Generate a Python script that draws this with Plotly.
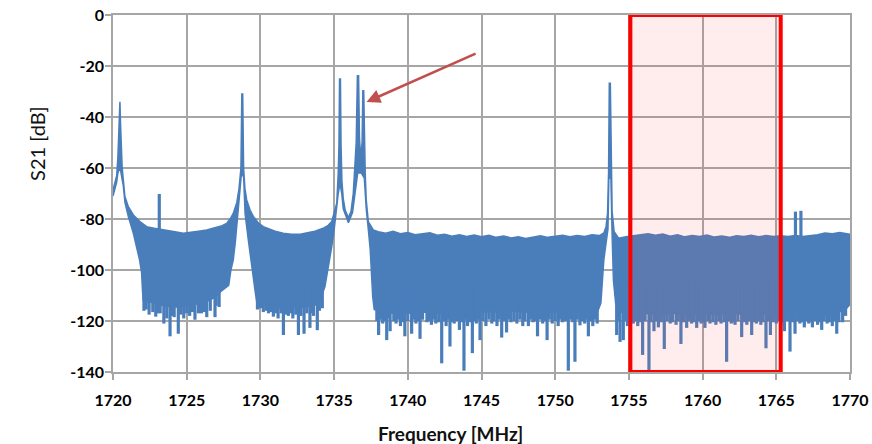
import plotly.graph_objects as go

# ---------------- data ----------------
# upper edge of the measured S21 trace (frequency MHz, level dB)
upper_freq = [1720.00, 1720.15, 1720.25, 1720.33, 1720.38, 1720.42, 1720.47, 1720.51, 1720.56, 1720.62,
              1720.70, 1720.81, 1721.04, 1721.38, 1721.83, 1722.28, 1722.80, 1723.30, 1723.64, 1724.20,
              1724.77, 1725.30, 1725.80, 1726.36, 1726.90, 1727.40, 1727.71, 1728.00, 1728.16, 1728.40,
              1728.55, 1728.68, 1728.74, 1728.80, 1728.86, 1728.95, 1729.07, 1729.30, 1729.52, 1729.85,
              1730.20, 1730.60, 1731.00, 1731.55, 1732.10, 1732.70, 1733.20, 1733.70, 1734.30, 1734.60,
              1734.84, 1735.05, 1735.18, 1735.28, 1735.33, 1735.37, 1735.43, 1735.47, 1735.53, 1735.62,
              1735.75, 1735.97, 1736.15, 1736.30, 1736.42, 1736.50, 1736.58, 1736.66, 1736.72, 1736.80,
              1736.90, 1736.95, 1737.01, 1737.06, 1737.11, 1737.18, 1737.32, 1737.66, 1738.00, 1738.50,
              1739.00, 1739.50, 1740.00, 1740.50, 1741.00, 1741.50, 1742.00, 1742.50, 1743.00, 1743.50,
              1744.00, 1744.50, 1745.00, 1745.50, 1746.00, 1746.50, 1747.00, 1747.50, 1748.00, 1748.50,
              1749.00, 1749.50, 1750.00, 1750.50, 1751.00, 1751.50, 1752.00, 1752.50, 1753.00, 1753.30,
              1753.45, 1753.55, 1753.62, 1753.67, 1753.74, 1753.79, 1753.86, 1754.00, 1754.30, 1754.80,
              1755.30, 1755.80, 1756.30, 1756.80, 1757.30, 1757.80, 1758.30, 1758.80, 1759.30, 1759.80,
              1760.30, 1760.80, 1761.30, 1761.80, 1762.30, 1762.80, 1763.30, 1763.80, 1764.30, 1764.80,
              1765.30, 1765.80, 1766.30, 1766.80, 1767.30, 1767.80, 1768.30, 1768.80, 1769.30, 1769.70,
              1770.00]
upper_db = [-68.6, -65.5, -63.0, -56.0, -47.0, -34.0, -34.0, -42.5, -55.0, -59.5,
            -64.7, -71.2, -75.2, -78.4, -81.0, -83.0, -83.6, -84.0, -84.3, -85.0,
            -85.6, -85.3, -84.8, -84.3, -83.5, -82.6, -81.7, -79.5, -77.8, -73.5,
            -68.0, -60.0, -31.0, -31.0, -60.0, -68.0, -72.5, -76.5, -79.0, -81.5,
            -83.0, -84.0, -84.8, -85.6, -86.0, -86.0, -85.5, -84.8, -83.5, -82.5,
            -81.0, -76.5, -73.8, -62.0, -51.0, -25.1, -25.1, -51.0, -65.0, -72.0,
            -76.5, -79.5, -77.0, -70.0, -60.0, -50.0, -23.8, -23.8, -48.0, -56.0,
            -50.0, -29.7, -29.7, -50.0, -62.0, -72.5, -81.0, -84.3, -85.0, -85.6,
            -84.8, -85.8, -85.3, -86.2, -85.8, -85.4, -86.4, -86.0, -86.8, -86.2,
            -86.9, -86.3, -87.0, -86.4, -87.2, -86.7, -87.4, -87.0, -87.6, -87.0,
            -86.6, -87.2, -86.8, -86.4, -87.0, -86.5, -86.9, -86.2, -86.5, -85.5,
            -83.0, -77.8, -62.0, -26.8, -26.8, -62.0, -77.0, -85.0, -87.5, -87.0,
            -86.6, -86.2, -85.8, -86.4, -85.9, -86.8, -86.2, -87.0, -86.5, -86.9,
            -86.3, -87.1, -86.7, -87.2, -86.6, -86.9, -86.4, -87.0, -86.5, -86.9,
            -86.6, -86.9, -86.5, -86.9, -86.6, -86.2, -85.5, -85.8, -85.3, -85.6,
            -86.0]

# lower edge of the noise band (without the spikes)
lower_freq = [1720.00, 1720.15, 1720.25, 1720.33, 1720.42, 1720.50, 1720.58, 1720.70, 1720.81, 1721.04,
              1721.38, 1721.60, 1721.80, 1721.94, 1722.00, 1722.05, 1722.50, 1723.00, 1723.50, 1724.00,
              1724.50, 1725.00, 1725.50, 1726.00, 1726.50, 1727.00, 1727.30, 1727.60, 1727.85, 1728.00,
              1728.16, 1728.30, 1728.43, 1728.58, 1728.70, 1728.86, 1728.96, 1729.18, 1729.41, 1729.63,
              1729.75, 1730.20, 1730.80, 1731.50, 1732.00, 1732.50, 1733.00, 1733.50, 1733.90, 1734.04,
              1734.38, 1734.60, 1734.84, 1735.00, 1735.15, 1735.28, 1735.40, 1735.52, 1735.62, 1735.97,
              1736.25, 1736.45, 1736.60, 1736.85, 1737.05, 1737.18, 1737.32, 1737.45, 1737.55, 1737.62,
              1737.72, 1738.20, 1739.00, 1740.00, 1741.00, 1742.00, 1743.00, 1744.00, 1745.00, 1746.00,
              1747.00, 1748.00, 1749.00, 1750.00, 1751.00, 1752.00, 1752.90, 1753.10, 1753.30, 1753.45,
              1753.58, 1753.64, 1753.78, 1753.86, 1753.95, 1754.10, 1754.30, 1755.00, 1756.00, 1757.00,
              1758.00, 1759.00, 1760.00, 1761.00, 1762.00, 1763.00, 1764.00, 1765.00, 1766.00, 1767.00,
              1768.00, 1769.00, 1769.70, 1770.00]
lower_db = [-71.0, -68.0, -65.5, -62.0, -60.5, -60.5, -62.0, -67.0, -73.5, -79.0,
            -85.6, -90.8, -96.0, -101.0, -108.0, -112.0, -112.5, -113.5, -114.0, -114.5,
            -114.5, -114.0, -113.5, -113.0, -112.0, -110.5, -108.5, -107.0, -106.0, -100.0,
            -96.0, -89.0, -83.0, -71.0, -63.0, -63.0, -77.8, -88.2, -98.7, -107.8,
            -112.5, -113.0, -114.5, -115.0, -114.5, -114.5, -114.5, -114.0, -113.5, -112.0,
            -106.5, -100.0, -90.8, -84.5, -78.0, -70.0, -66.0, -70.0, -76.0, -81.5,
            -77.5, -68.0, -62.0, -62.0, -64.0, -76.0, -84.0, -92.0, -102.6, -110.5,
            -115.5, -116.5, -117.0, -117.0, -116.5, -117.0, -117.5, -117.0, -116.5, -116.5,
            -116.0, -116.5, -117.0, -116.5, -116.5, -116.0, -116.0, -113.0, -96.0, -89.5,
            -84.0, -64.0, -64.0, -86.0, -104.0, -113.0, -116.5, -117.0, -117.0, -117.5,
            -117.0, -117.5, -117.0, -117.5, -117.0, -117.5, -117.0, -117.5, -118.0, -118.5,
            -118.0, -117.0, -115.5, -113.5]

# deep downward noise spikes
dip_freq = [1722.10, 1722.45, 1722.90, 1723.20, 1723.45, 1723.87, 1724.15, 1724.43, 1724.80, 1725.20,
            1725.56, 1726.00, 1726.36, 1726.92, 1727.20,
            1729.80, 1730.20, 1730.55, 1730.88, 1731.20, 1731.56, 1731.90, 1732.20, 1732.58, 1732.96,
            1733.36, 1733.60, 1733.86, 1734.20,
            1737.90, 1738.02, 1738.30, 1738.57, 1738.80, 1739.20, 1739.50, 1739.80, 1740.26, 1740.55,
            1740.83, 1741.30, 1741.60, 1741.90, 1742.30, 1742.60, 1742.86, 1743.15, 1743.50, 1743.81,
            1744.05, 1744.38, 1744.65, 1744.90, 1745.30, 1745.70, 1746.05, 1746.37, 1746.70, 1747.00,
            1747.40, 1747.80, 1748.18, 1748.50, 1748.80, 1749.15, 1749.45, 1749.80, 1750.20, 1750.50,
            1750.89, 1751.34, 1751.68, 1752.00, 1752.25, 1752.55, 1752.85,
            1754.17, 1754.40, 1754.62, 1754.90, 1755.30, 1755.60, 1755.93, 1756.36, 1756.70, 1757.00,
            1757.40, 1757.80, 1758.20, 1758.53, 1758.92, 1759.25, 1759.60, 1759.90, 1760.16, 1760.50,
            1760.90, 1761.25, 1761.63, 1761.95, 1762.20, 1762.65, 1763.00, 1763.33, 1763.65, 1763.95,
            1764.30, 1764.60, 1765.00, 1765.30, 1765.55, 1765.93, 1766.27, 1766.60, 1766.90, 1767.20,
            1767.45, 1767.80, 1768.08, 1768.45, 1768.80, 1769.10, 1769.50]
dip_db = [-116.0, -117.5, -118.3, -117.0, -121.0, -126.0, -118.5, -125.0, -119.0, -118.0,
          -119.5, -117.0, -118.5, -118.5, -114.5,
          -115.5, -116.5, -117.0, -118.3, -119.0, -125.5, -118.0, -119.0, -125.5, -125.0,
          -122.7, -118.0, -123.6, -115.0,
          -120.0, -125.5, -121.0, -127.5, -124.0, -121.0, -122.0, -126.0, -125.0, -121.0,
          -127.0, -120.5, -121.5, -121.0, -136.6, -122.0, -130.0, -121.0, -123.5, -139.5,
          -122.0, -132.6, -121.0, -127.5, -122.0, -121.0, -122.0, -126.5, -124.5, -120.5,
          -121.0, -122.0, -122.0, -120.5, -126.0, -121.0, -127.5, -121.0, -122.0, -120.5,
          -139.5, -136.0, -121.7, -121.0, -126.0, -122.0, -121.0,
          -125.5, -128.2, -127.5, -122.0, -121.0, -122.0, -133.3, -139.5, -124.0, -122.5,
          -131.0, -121.0, -121.5, -129.0, -122.7, -121.0, -122.7, -121.0, -122.7, -121.0,
          -121.5, -121.0, -136.0, -121.0, -121.5, -126.3, -121.5, -125.5, -121.0, -121.5,
          -130.7, -125.5, -121.0, -122.0, -124.0, -132.0, -125.0, -121.0, -122.5, -121.0,
          -122.5, -121.5, -123.5, -121.0, -122.0, -125.0, -120.5]

# shallow teeth along the lower edge of the noise band
tooth_freq = [1722.25, 1722.70, 1723.05, 1723.65, 1724.00, 1724.60, 1725.00, 1725.40, 1725.80, 1726.20,
              1726.60, 1727.00,
              1730.00, 1730.40, 1730.70, 1731.05, 1731.40, 1731.75, 1732.05, 1732.40, 1732.75, 1733.15,
              1733.50, 1734.00,
              1738.15, 1738.45, 1738.70, 1739.05, 1739.35, 1739.65, 1740.00, 1740.40, 1740.70, 1741.00,
              1741.45, 1741.75, 1742.10, 1742.45, 1742.75, 1743.00, 1743.30, 1743.65, 1743.95, 1744.20,
              1744.50, 1744.78, 1745.10, 1745.50, 1745.85, 1746.20, 1746.55, 1746.85, 1747.20, 1747.60,
              1747.95, 1748.35, 1748.65, 1749.00, 1749.30, 1749.60, 1750.00, 1750.35, 1750.70, 1751.05,
              1751.20, 1751.50, 1751.85, 1752.10, 1752.40, 1752.70,
              1754.30, 1754.75, 1755.15, 1755.45, 1755.75, 1756.10, 1756.50, 1756.85, 1757.20, 1757.60,
              1757.95, 1758.35, 1758.70, 1759.10, 1759.40, 1759.75, 1760.05, 1760.35, 1760.70, 1761.10,
              1761.45, 1761.80, 1762.05, 1762.40, 1762.85, 1763.15, 1763.50, 1763.80, 1764.10, 1764.45,
              1764.80, 1765.15, 1765.42, 1765.75, 1766.10, 1766.45, 1766.75, 1767.05, 1767.30, 1767.60,
              1767.95, 1768.25, 1768.60, 1768.95, 1769.25, 1769.70]
tooth_db = [-115.5, -116.5, -117.0, -119.0, -118.0, -117.5, -117.0, -116.5, -117.0, -116.5,
            -116.0, -114.0,
            -115.0, -116.0, -116.5, -117.0, -117.0, -117.5, -117.0, -117.5, -118.0, -117.0,
            -117.0, -116.0,
            -119.5, -120.0, -119.0, -120.0, -119.5, -120.5, -120.0, -119.5, -120.0, -119.5,
            -120.0, -119.5, -120.5, -120.0, -119.5, -120.5, -120.0, -120.5, -119.5, -120.5,
            -120.0, -119.5, -120.0, -119.5, -120.0, -119.5, -120.0, -119.5, -120.0, -119.5,
            -120.0, -119.5, -120.0, -119.5, -120.0, -119.5, -120.0, -119.5, -120.0, -119.5,
            -120.5, -119.5, -120.0, -119.5, -120.0, -119.5,
            -120.0, -120.0, -119.5, -120.0, -120.5, -120.0, -120.5, -120.0, -120.5, -120.0,
            -120.5, -120.0, -120.5, -120.0, -120.5, -120.0, -120.5, -120.0, -120.5, -120.0,
            -120.5, -120.0, -120.5, -120.0, -120.5, -120.0, -120.5, -120.0, -120.5, -120.0,
            -120.5, -120.0, -120.5, -120.0, -120.5, -120.0, -120.5, -120.0, -120.5, -120.0,
            -120.5, -120.0, -120.5, -120.0, -120.5, -118.0]

# small upward spurs
spur_freq = [1723.14, 1766.30, 1766.67]
spur_db = [-70.2, -77.1, -76.8]

# highlighted band and arrow
band_freq = [1755.1, 1765.3]
arrow_tip = (1737.2, -34.1)
arrow_tail = (1744.7, -14.9)

x_ticks = [1720, 1725, 1730, 1735, 1740, 1745, 1750, 1755, 1760, 1765, 1770]
y_ticks = [0, -20, -40, -60, -80, -100, -120, -140]

# ---------------- figure ----------------
BLUE = "#4A7EBB"
GRID = "#A6A6A6"
FONT = "Lato"

fig = go.Figure()

# noise band: upper edge forward, lower edge backward
fig.add_trace(go.Scatter(
    x=upper_freq + lower_freq[::-1],
    y=upper_db + lower_db[::-1],
    mode="lines", fill="toself", fillcolor=BLUE,
    line=dict(color=BLUE, width=1.5), hoverinfo="skip", showlegend=False))

# spikes, drawn from inside the band to their level
sx, sy = [], []
for f, v in zip(tooth_freq + dip_freq, tooth_db + dip_db):
    sx += [f, f, None]
    sy += [-105, v, None]
for f, v in zip(spur_freq, spur_db):
    sx += [f, f, None]
    sy += [-92, v, None]
fig.add_trace(go.Scatter(x=sx, y=sy, mode="lines",
                         line=dict(color=BLUE, width=3.2), hoverinfo="skip", showlegend=False))

fig.add_shape(type="rect", xref="x", yref="y",
              x0=band_freq[0], x1=band_freq[1], y0=-140, y1=0,
              line=dict(color="#FF0000", width=4),
              fillcolor="rgba(255,80,80,0.10)", layer="above")

fig.add_annotation(x=arrow_tip[0], y=arrow_tip[1], ax=arrow_tail[0], ay=arrow_tail[1],
                   xref="x", yref="y", axref="x", ayref="y", text="",
                   showarrow=True, arrowhead=2, arrowsize=1.1, arrowwidth=2.5,
                   arrowcolor="#C0504D", standoff=0)

fig.add_annotation(text="Frequency [MHz]", xref="paper", yref="paper",
                   x=0.4586, y=-0.171, xanchor="center", yanchor="middle", showarrow=False,
                   font=dict(family=FONT, size=19, color="#111111", weight="bold"))
fig.add_annotation(text="S21 [dB]", xref="paper", yref="paper",
                   x=-0.103, y=0.639, xanchor="center", yanchor="middle", showarrow=False,
                   textangle=-90, font=dict(family=FONT, size=20, color="#111111"))

axis_common = dict(showgrid=True, gridcolor=GRID, gridwidth=1.5,
                   showline=True, linecolor=GRID, linewidth=1.5, mirror=True,
                   ticks="outside", ticklen=6, tickcolor=GRID, tickwidth=1.5,
                   zeroline=False, automargin=False,
                   tickfont=dict(family=FONT, size=16, weight="bold", color="#000000"))

fig.update_layout(
    width=872, height=444,
    margin=dict(l=113, r=22, t=15, b=72, autoexpand=False),
    paper_bgcolor="white", plot_bgcolor="white",
    font=dict(family=FONT, size=16, color="#000000"),
    xaxis=dict(range=[1720, 1770], tickvals=x_ticks, ticktext=[str(v) for v in x_ticks],
               ticklabelstandoff=7, **axis_common),
    yaxis=dict(range=[-140, 0], tickvals=y_ticks, ticktext=[str(v) for v in y_ticks],
               ticklabelstandoff=-2, **axis_common),
)

fig.write_html("out.html")
